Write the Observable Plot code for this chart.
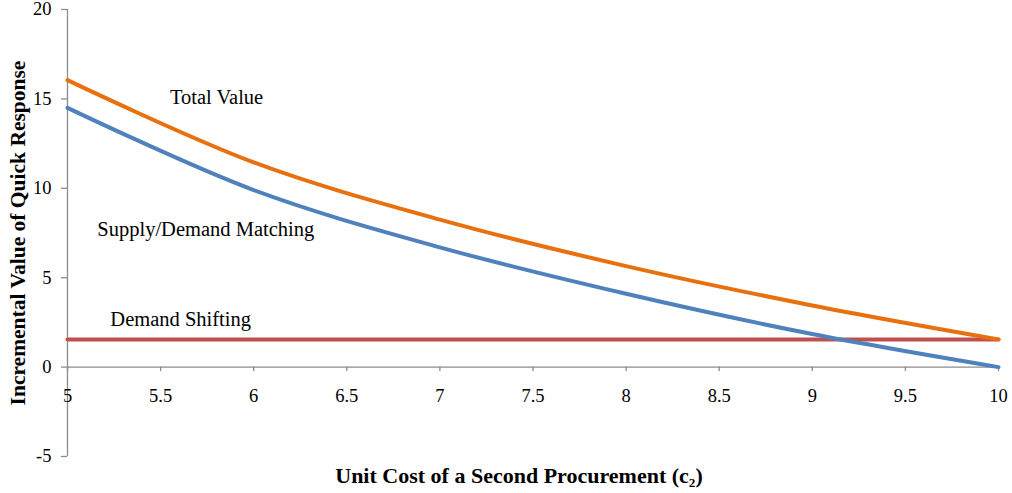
<!DOCTYPE html>
<html>
<head>
<meta charset="utf-8">
<script src="https://cdn.jsdelivr.net/npm/d3@7"></script>
<script src="https://cdn.jsdelivr.net/npm/@observablehq/plot@0.6"></script>
<style>
  html, body { margin: 0; padding: 0; background: #fff; }
  #chart svg { display: block; font-family: "Liberation Serif", "Times New Roman", serif; }
</style>
</head>
<body>
<div id="chart"></div>
<script>
const cost = [5, 6, 7, 8, 9, 10];
const totalValue = [16.05, 11.45, 8.25, 5.65, 3.45, 1.55];
const supplyDemand = [14.5, 9.9, 6.7, 4.1, 1.85, 0.0];
const demandShifting = [1.55, 1.55, 1.55, 1.55, 1.55, 1.55];
const xTicks = [5, 5.5, 6, 6.5, 7, 7.5, 8, 8.5, 9, 9.5, 10];
const yTicks = [-5, 0, 5, 10, 15, 20];
const labelNames = ["Total Value", "Supply/Demand Matching", "Demand Shifting"];
const labelX = [5.55, 5.16, 5.23];
const labelY = [15.1, 7.7, 2.65];
const xTitle = "Unit Cost of a Second Procurement (c\u2082)";
const yTitle = "Incremental Value of Quick Response";

const colors = {total: "#E8700F", supply: "#4F81BD", shift: "#C0504D"};
const axisColor = "#8C8C8C";

const rows = (vals) => cost.map((c, i) => ({x: c, y: vals[i]}));
const labels = labelNames.map((t, i) => ({t, x: labelX[i], y: labelY[i]}));

const chart = Plot.plot({
  width: 1012,
  height: 493,
  marginLeft: 67,
  marginRight: 14,
  marginTop: 9,
  marginBottom: 37,
  x: {type: "linear", domain: [5, 10], axis: null},
  y: {type: "linear", domain: [-5, 20], axis: null},
  style: {fontFamily: "'Liberation Serif', 'Times New Roman', serif", background: "#fff"},
  marks: [
    // y axis
    Plot.ruleX([5], {y1: -5, y2: 20, stroke: axisColor, strokeWidth: 1.3}),
    Plot.axisY(yTicks, {anchor: "left", tickSize: 6, tickPadding: 10, stroke: axisColor, strokeWidth: 1.3, fill: "#000", fontSize: 18.5, tickFormat: d => String(d), label: null}),
    // x axis on y = 0
    Plot.ruleY([0], {stroke: axisColor, strokeWidth: 1.3}),
    Plot.ruleX(xTicks, {x: d => d, y1: 0, y2: -0.25, stroke: axisColor, strokeWidth: 1.3}),
    Plot.text(xTicks, {x: d => d, y: 0, dy: 29, text: d => String(d), fontSize: 18.5, fill: "#000"}),
    // series
    Plot.line(rows(demandShifting), {x: "x", y: "y", stroke: colors.shift, strokeWidth: 4}),
    Plot.line(rows(supplyDemand), {x: "x", y: "y", stroke: colors.supply, strokeWidth: 4, curve: "catmull-rom"}),
    Plot.line(rows(totalValue), {x: "x", y: "y", stroke: colors.total, strokeWidth: 4, curve: "catmull-rom"}),
    // annotations
    Plot.text(labels, {x: "x", y: "y", text: "t", textAnchor: "start", fontSize: 20.5, fill: "#000"}),
    // axis titles
    Plot.text([yTitle], {frameAnchor: "left", textAnchor: "middle", rotate: -90, dx: -49, fontSize: 21.5, fontWeight: "bold", fill: "#000"}),
    Plot.text([xTitle], {frameAnchor: "bottom", dy: 26, dx: -14, fontSize: 22, fontWeight: "bold", fill: "#000"})
  ]
});
document.getElementById("chart").appendChild(chart);
</script>
</body>
</html>
